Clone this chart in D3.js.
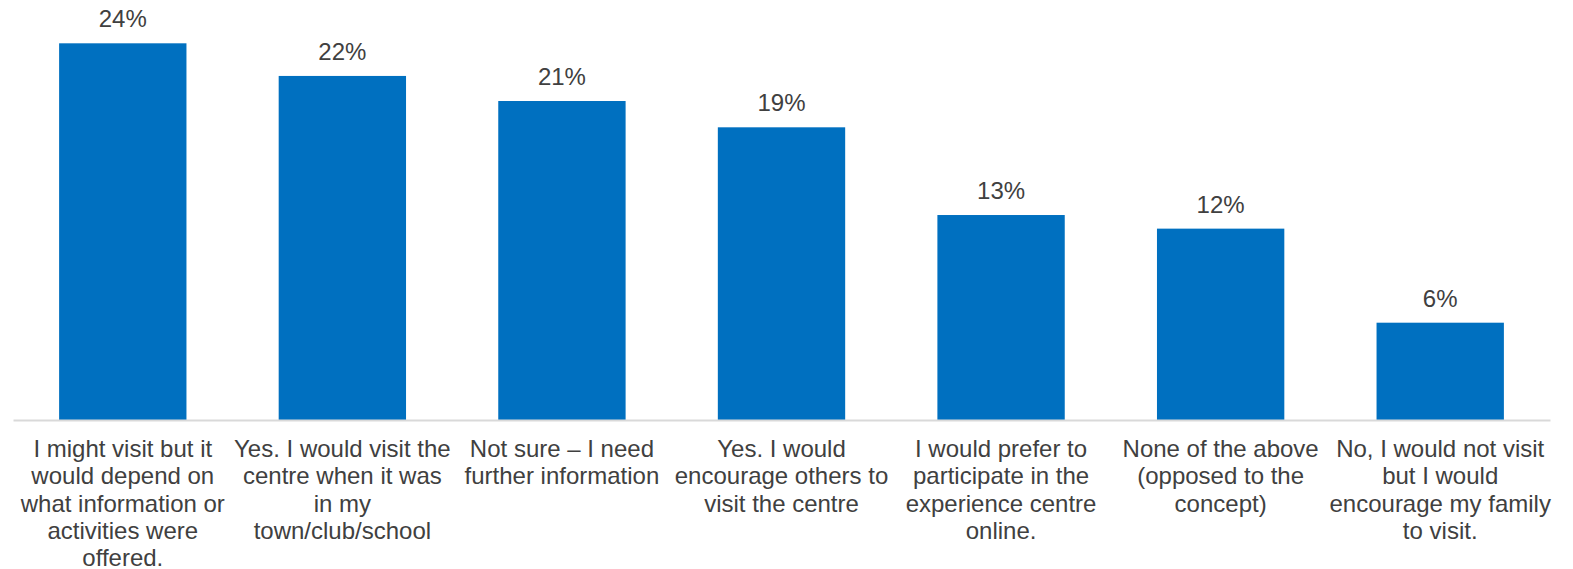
<!DOCTYPE html>
<html>
<head>
<meta charset="utf-8">
<script src="https://cdn.jsdelivr.net/npm/d3@7"></script>
<style>
  html, body { margin: 0; padding: 0; background: #ffffff; }
  svg { display: block; }
</style>
</head>
<body>
<svg id="chart" width="1573" height="569"></svg>
<script>
// ---- Data ----
const categories = [
  "I might visit but it\nwould depend on\nwhat information or\nactivities were\noffered.",
  "Yes. I would visit the\ncentre when it was\nin my\ntown/club/school",
  "Not sure \u2013 I need\nfurther information",
  "Yes. I would\nencourage others to\nvisit the centre",
  "I would prefer to\nparticipate in the\nexperience centre\nonline.",
  "None of the above\n(opposed to the\nconcept)",
  "No, I would not visit\nbut I would\nencourage my family\nto visit."
];
const values = [24.35, 22.24, 20.62, 18.92, 13.25, 12.37, 6.29];
const valueLabels = ["24%", "22%", "21%", "19%", "13%", "12%", "6%"];

// ---- Layout ----
const svg = d3.select("#chart");
const x0 = 13, x1 = 1550, baseY = 420;
const pxPerUnit = 15.47;
const yMax = 27;

const x = d3.scaleBand()
  .domain(d3.range(categories.length))
  .range([x0, x1])
  .paddingInner(0.42)
  .paddingOuter(0.21);

const y = d3.scaleLinear()
  .domain([0, yMax])
  .range([baseY, baseY - yMax * pxPerUnit]);

const textColor = "#404040";
const font = "'Liberation Sans', Arial, sans-serif";

// Bars
svg.append("g").selectAll("rect")
  .data(values)
  .join("rect")
  .attr("x", (d, i) => x(i))
  .attr("width", x.bandwidth())
  .attr("y", d => y(d))
  .attr("height", d => y(0) - y(d))
  .attr("fill", "#0070C0");

// Axis baseline
const xAxis = d3.axisBottom(x).tickSize(0).tickFormat("");
const axisG = svg.append("g")
  .attr("transform", `translate(0,${baseY})`)
  .call(xAxis);
axisG.select(".domain").attr("stroke", "#d9d9d9").attr("stroke-width", 2);

// Value labels
svg.append("g").selectAll("text")
  .data(values)
  .join("text")
  .attr("x", (d, i) => x(i) + x.bandwidth() / 2)
  .attr("y", d => y(d) - 16)
  .attr("text-anchor", "middle")
  .attr("font-family", font)
  .attr("font-size", 24)
  .attr("fill", textColor)
  .text((d, i) => valueLabels[i]);

// Category labels
const catG = svg.append("g");
categories.forEach((c, i) => {
  const t = catG.append("text")
    .attr("x", x(i) + x.bandwidth() / 2)
    .attr("y", 457)
    .attr("text-anchor", "middle")
    .attr("font-family", font)
    .attr("font-size", 24)
    .attr("fill", textColor);
  c.split("\n").forEach((line, k) => {
    t.append("tspan")
      .attr("x", x(i) + x.bandwidth() / 2)
      .attr("dy", k === 0 ? 0 : 27.25)
      .text(line);
  });
});
</script>
</body>
</html>
